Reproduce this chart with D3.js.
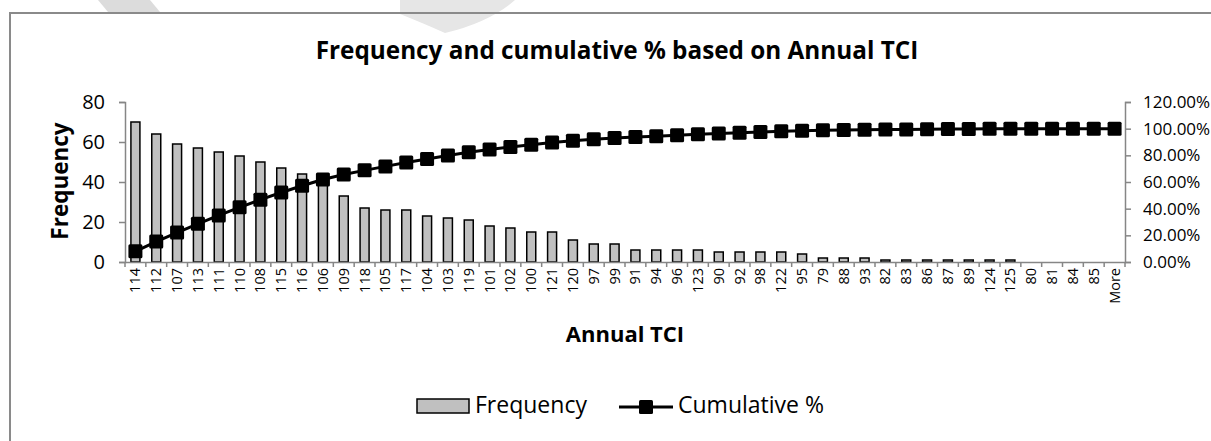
<!DOCTYPE html>
<html>
<head>
<meta charset="utf-8">
<script src="https://cdn.jsdelivr.net/npm/d3@7"></script>
<style>
  body { margin: 0; background: #fff; }
  svg { display: block; font-family: "Open Sans", Lato, sans-serif; }
</style>
</head>
<body>
<div id="chart"></div>
<script>
// Annual TCI bins, in the order Excel sorted them
const bins = ["114","112","107","113","111","110","108","115","116","106",
  "109","118","105","117","104","103","119","101","102","100",
  "121","120","97","99","91","94","96","123","90","92",
  "98","122","95","79","88","93","82","83","86","87",
  "89","124","125","80","81","84","85","More"];

const frequency = [70,64,59,57,55,53,50,47,44,41,
  33,27,26,26,23,22,21,18,17,15,
  15,11,9,9,6,6,6,6,5,5,
  5,5,4,2,2,2,1,1,1,1,
  1,1,1,0,0,0,0,0];

// cumulative %, as printed on the line
const cumulative = [8.02,15.35,22.11,28.64,34.94,41.01,46.74,52.12,57.16,61.86,
  65.64,68.73,71.71,74.68,77.32,79.84,82.25,84.31,86.25,87.97,
  89.69,90.95,91.98,93.01,93.70,94.39,95.07,95.76,96.33,96.91,
  97.48,98.05,98.51,98.74,98.97,99.20,99.31,99.43,99.54,99.66,
  99.77,99.89,100,100,100,100,100,100];

const freqTicks = [0,20,40,60,80];
const pctTicks = [0,20,40,60,80,100,120];

const width = 1211, height = 441;
const margin = {top: 102, right: 86, bottom: 179, left: 125};
const axisGrey = "#868686";
const font = "'Open Sans', Lato, sans-serif";

const svg = d3.select("#chart").append("svg")
    .attr("width", width)
    .attr("height", height);

// faint page watermark behind the chart
svg.append("path")
    .attr("d", "M98,0 L150,0 L160,12 L108,12 Z")
    .attr("fill", "#dcdcdc");
svg.append("path")
    .attr("d", "M400,0 L515,0 Q490,22 445,33 Q425,24 400,14 Z")
    .attr("fill", "#e6e6e6");

// chart area border (runs off the right and bottom of the shot)
svg.append("rect")
    .attr("x", 10).attr("y", 13)
    .attr("width", 1400).attr("height", 600)
    .attr("fill", "none")
    .attr("stroke", "#8a8a8a")
    .attr("stroke-width", 2);

const x = d3.scaleBand()
    .domain(bins)
    .range([margin.left, width - margin.right]);

const y = d3.scaleLinear()
    .domain([0, 80])
    .range([height - margin.bottom, margin.top]);

const y2 = d3.scaleLinear()
    .domain([0, 120])
    .range([height - margin.bottom, margin.top]);

// title
svg.append("text")
    .attr("x", 617).attr("y", 59)
    .attr("text-anchor", "middle")
    .attr("font-weight", "bold")
    .attr("font-size", 24.3)
    .text("Frequency and cumulative % based on Annual TCI");

// bars
const barW = 9;
svg.append("g")
  .selectAll("rect")
    .data(frequency)
  .enter().append("rect")
    .attr("x", function(d, i) { return x(bins[i]) + x.bandwidth() / 2 - barW / 2; })
    .attr("y", function(d) { return y(d); })
    .attr("width", barW)
    .attr("height", function(d) { return y(0) - y(d); })
    .attr("fill", "#c0c0c0")
    .attr("stroke", "#000")
    .attr("stroke-width", 1.5);

// left axis
const gLeft = svg.append("g")
    .attr("transform", "translate(" + margin.left + ",0)")
    .call(d3.axisLeft(y).tickValues(freqTicks).tickSize(6).tickPadding(14));
// right axis
const gRight = svg.append("g")
    .attr("transform", "translate(" + (width - margin.right) + ",0)")
    .call(d3.axisRight(y2).tickValues(pctTicks).tickSize(6).tickPadding(12)
      .tickFormat(function(d) { return d.toFixed(2) + "%"; }));
// bottom axis with ticks on band edges
const gBottom = svg.append("g")
    .attr("transform", "translate(0," + y(0) + ")")
    .call(d3.axisBottom(x).tickSize(0).tickPadding(6));

[gLeft, gRight, gBottom].forEach(function(g) {
  g.select(".domain").attr("stroke", axisGrey).attr("stroke-width", 1.5);
  g.selectAll(".tick line").attr("stroke", axisGrey).attr("stroke-width", 1.5);
  g.selectAll("text").attr("fill", "#000").attr("font-family", font);
});
gLeft.selectAll("text").attr("font-size", 20);
gRight.selectAll("text").attr("font-size", 17);

gBottom.selectAll(".tick text")
    .attr("font-size", 14.5)
    .attr("text-anchor", "end")
    .attr("transform", "rotate(-90)")
    .attr("x", -6)
    .attr("y", 0)
    .attr("dy", "0.35em");

gBottom.selectAll(".edge")
    .data(bins.concat(["_end"]))
  .enter().append("line")
    .attr("class", "edge")
    .attr("x1", function(d, i) { return margin.left + i * x.step(); })
    .attr("x2", function(d, i) { return margin.left + i * x.step(); })
    .attr("y1", 0).attr("y2", 5)
    .attr("stroke", axisGrey)
    .attr("stroke-width", 1.5);

// cumulative line with square markers
const line = d3.line()
    .x(function(d, i) { return x(bins[i]) + x.bandwidth() / 2; })
    .y(function(d) { return y2(d); });

svg.append("path")
    .datum(cumulative)
    .attr("d", line)
    .attr("fill", "none")
    .attr("stroke", "#000")
    .attr("stroke-width", 3);

const mk = 14;
svg.append("g")
  .selectAll("rect")
    .data(cumulative)
  .enter().append("rect")
    .attr("x", function(d, i) { return x(bins[i]) + x.bandwidth() / 2 - mk / 2; })
    .attr("y", function(d) { return y2(d) - mk / 2; })
    .attr("width", mk).attr("height", mk)
    .attr("rx", 1.5)
    .attr("fill", "#000");

// axis titles
svg.append("text")
    .attr("transform", "translate(68,181) rotate(-90)")
    .attr("text-anchor", "middle")
    .attr("font-weight", "bold")
    .attr("font-size", 22.5)
    .text("Frequency");

svg.append("text")
    .attr("x", 625).attr("y", 342)
    .attr("text-anchor", "middle")
    .attr("font-weight", "bold")
    .attr("font-size", 22)
    .text("Annual TCI");

// legend
const legend = svg.append("g");
legend.append("rect")
    .attr("x", 417).attr("y", 399)
    .attr("width", 52).attr("height", 14)
    .attr("fill", "#c0c0c0")
    .attr("stroke", "#000")
    .attr("stroke-width", 1.5);
legend.append("text")
    .attr("x", 475).attr("y", 413)
    .attr("font-size", 23)
    .text("Frequency");
legend.append("line")
    .attr("x1", 619).attr("x2", 673)
    .attr("y1", 407).attr("y2", 407)
    .attr("stroke", "#000")
    .attr("stroke-width", 3);
legend.append("rect")
    .attr("x", 639).attr("y", 400)
    .attr("width", 14).attr("height", 14)
    .attr("rx", 1.5)
    .attr("fill", "#000");
legend.append("text")
    .attr("x", 678).attr("y", 413)
    .attr("font-size", 23)
    .text("Cumulative %");
</script>
</body>
</html>
